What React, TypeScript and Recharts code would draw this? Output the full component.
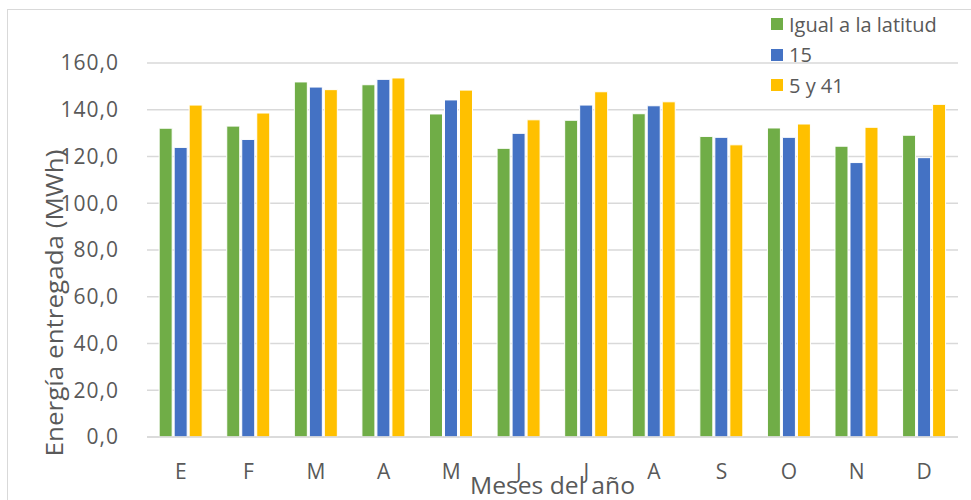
import { BarChart, Bar, XAxis, YAxis, CartesianGrid, Legend } from "recharts";

const MONTHS = ["E", "F", "M", "A", "M", "J", "J", "A", "S", "O", "N", "D"];
const LATITUD = [132.1, 133.0, 151.9, 150.7, 138.2, 123.5, 135.5, 138.3, 128.6, 132.2, 124.4, 129.1];
const QUINCE = [123.9, 127.3, 149.7, 153.0, 144.2, 129.9, 142.0, 141.7, 128.2, 128.2, 117.4, 119.5];
const CINCO_41 = [142.0, 138.6, 148.6, 153.6, 148.4, 135.7, 147.7, 143.4, 125.0, 133.9, 132.5, 142.3];
const Y_TICKS = [0, 20, 40, 60, 80, 100, 120, 140, 160];

const SERIES = [
  { key: "latitud", name: "Igual a la latitud", color: "#70ad47" },
  { key: "quince", name: "15", color: "#4472c4" },
  { key: "cinco", name: "5 y 41", color: "#ffc000" },
];

const data = MONTHS.map((m, i) => ({
  mes: m,
  latitud: LATITUD[i],
  quince: QUINCE[i],
  cinco: CINCO_41[i],
}));

const FONT = "'Open Sans', sans-serif";
const TEXT = "#595959";

const fmt = (v: number) => v.toFixed(1).replace(".", ",");

function LegendBox() {
  return (
    <div style={{ fontFamily: FONT, fontSize: 20, color: TEXT }}>
      {SERIES.map((s) => (
        <div key={s.key} style={{ display: "flex", alignItems: "center", height: 30.5 }}>
          <span style={{ width: 12, height: 12, background: s.color, marginRight: 6, display: "inline-block" }} />
          <span>{s.name}</span>
        </div>
      ))}
    </div>
  );
}

export default function App() {
  return (
    <div style={{ position: "absolute", left: 0, top: 0, width: 971, height: 500, overflow: "hidden", background: "#fff" }}>
      <div
        style={{
          position: "absolute",
          left: 7,
          top: 9,
          width: 980,
          height: 520,
          border: "1px solid #d9d9d9",
        }}
      />
      <div style={{ position: "absolute", left: 0, top: 0 }}>
        <BarChart
          width={971}
          height={500}
          data={data}
          margin={{ top: 63, right: 13, bottom: 0, left: 0 }}
          barCategoryGap="18%"
          barGap={2}
          style={{ overflow: "visible" }}
        >
          <CartesianGrid vertical={false} stroke="#d9d9d9" strokeWidth={1.5} />
          <XAxis
            dataKey="mes"
            height={63}
            axisLine={{ stroke: "#d9d9d9", strokeWidth: 1.5 }}
            tickLine={false}
            tickSize={0}
            tickMargin={27}
            tick={{ fill: TEXT, fontSize: 21, fontFamily: FONT }}
            interval={0}
            label={{
              content: (props: any) => {
                const vb = props.viewBox;
                const cx = vb.x + vb.width / 2;
                return (
                  <text
                    x={cx}
                    y={vb.y + 57}
                    textAnchor="middle"
                    fill={TEXT}
                    fontSize={24}
                    fontFamily={FONT}
                    textLength={165}
                    lengthAdjust="spacingAndGlyphs"
                  >
                    Meses del año
                  </text>
                );
              },
            }}
          />
          <YAxis
            width={147}
            domain={[0, 160]}
            ticks={Y_TICKS}
            tickFormatter={fmt}
            axisLine={false}
            tickLine={false}
            tickSize={0}
            tickMargin={28}
            tick={{ fill: TEXT, fontSize: 21, fontFamily: FONT, letterSpacing: 1 }}
            label={{
              content: () => (
                <text
                  x={63}
                  y={303}
                  transform="rotate(-90, 63, 303)"
                  textAnchor="middle"
                  fill={TEXT}
                  fontSize={23}
                  fontFamily={FONT}
                  textLength={307}
                  lengthAdjust="spacingAndGlyphs"
                >
                  Energía entregada (MWh)
                </text>
              ),
            }}
          />
          <Legend
            layout="vertical"
            align="center"
            verticalAlign="middle"
            content={() => <LegendBox />}
            wrapperStyle={{ position: "absolute", top: 9, left: 771, width: 200 }}
          />
          {SERIES.map((s) => (
            <Bar
              key={s.key}
              dataKey={s.key}
              name={s.name}
              fill={s.color}
              stroke="#ffffff"
              strokeWidth={1}
              isAnimationActive={false}
            />
          ))}
        </BarChart>
      </div>
    </div>
  );
}
